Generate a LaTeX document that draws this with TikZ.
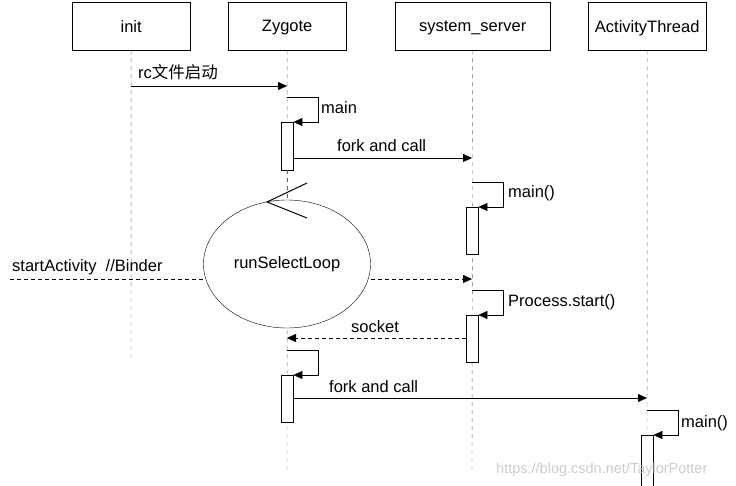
\documentclass[tikz,border=0pt]{standalone}
\usepackage{fontspec}
\setmainfont{Liberation Sans}
\newfontfamily\cjk{Noto Sans CJK SC}
\usetikzlibrary{arrows.meta,shapes.geometric}
\begin{document}
\begin{tikzpicture}[x=1pt,y=-1pt,font=\fontsize{16.5}{19}\selectfont,
  life/.style={draw,minimum width=118pt,minimum height=48pt,anchor=north west,text depth=0pt,yshift=0pt},
  lline/.style={dashed,gray!80!black,dash pattern=on 4pt off 4pt},
  act/.style={draw,fill=white,minimum width=12pt,anchor=north west,inner sep=0pt},
  msg/.style={-{Triangle[length=9pt,width=8pt]}},
  dmsg/.style={msg,dash pattern=on 4pt off 3pt},
  lbl/.style={anchor=base west,inner sep=0pt}]
\useasboundingbox (0,0) rectangle (736,486);
\node[life] (init) at (72,2) {init};
\node[life] (zy) at (228,2) {Zygote};
\node[life,minimum width=155pt] (ss) at (395,2) {system\_server};
\node[life] (at) at (588,2) {ActivityThread};
\draw[lline] (init.south) -- (131,362);
\draw[lline] (zy.south) -- (287,470);
\draw[lline] (ss.south) -- (472,470);
\draw[lline] (at.south) -- (647,486);
% rc
\coordinate (r1) at (131,86); \coordinate (r2) at (287,86);
\draw[msg] (r1) -- (r2);
\node[lbl] (rcl) at (138,79) {rc{\cjk 文件启动}};
% zygote main
\node[act,minimum height=48pt] (za1) at (281,122) {};
\coordinate (m1) at (287,97);
\draw[msg] (m1) -- (318,97) -- (318,122) -- (za1.north east);
\node[lbl] (ml) at (321,114) {main};
% fork and call
\coordinate (f1) at (293,158); \coordinate (f2) at (472,158);
\draw[msg] (f1) -- (f2);
\node[lbl] (fl) at (337,152) {fork and call};
% ss main
\node[act,minimum height=47pt] (sa1) at (466,207) {};
\coordinate (s1) at (472,182);
\draw[msg] (s1) -- (503,182) -- (503,207) -- (sa1.north east);
\node[lbl] (sl) at (508,198) {main()};
% loop
\draw[lline] (287,170) -- (287,200);
\node[draw,ellipse,minimum width=167pt,minimum height=128pt,fill=white] (loop) at (287,264) {runSelectLoop};
\draw[line width=1pt] (307,183) -- (267,202) -- (307,218);
% startActivity
\coordinate (b0) at (10,279); \coordinate (b2) at (472,279);
\draw[dash pattern=on 4pt off 3pt] (b0) -- (loop.west |- b0);
\draw[dmsg] (371,279) -- (b2);
\node[lbl] (bl) at (12,272) {startActivity~~//Binder};
% process start
\node[act,minimum height=47pt] (sa2) at (466,315) {};
\coordinate (p1) at (472,290);
\draw[msg] (p1) -- (503,290) -- (503,315) -- (sa2.north east);
\node[lbl] (pl) at (508,306) {Process.start()};
% socket
\coordinate (k2) at (287,338);
\draw[dmsg] (466,338) -- (k2);
\node[lbl] (kl) at (351,332) {socket};
% zygote self 2
\node[act,minimum height=47pt] (za2) at (281,375) {};
\coordinate (z1) at (287,350);
\draw[msg] (z1) -- (318,350) -- (318,375) -- (za2.north east);
% fork and call 2
\coordinate (g1) at (293,398); \coordinate (g2) at (647,398);
\draw[msg] (g1) -- (g2);
\node[lbl] (gl) at (329,392) {fork and call};
% at main
\node[act,minimum height=60pt] (aa) at (641,435) {};
\coordinate (a1) at (647,410);
\draw[msg] (a1) -- (678,410) -- (678,435) -- (aa.north east);
\node[lbl] (al) at (681,427) {main()};
\node[lbl,text=gray!40,font=\fontsize{14.5}{17}\selectfont] (wm) at (496,473) {https://blog.csdn.net/TaylorPotter};
\end{tikzpicture}
\end{document}
